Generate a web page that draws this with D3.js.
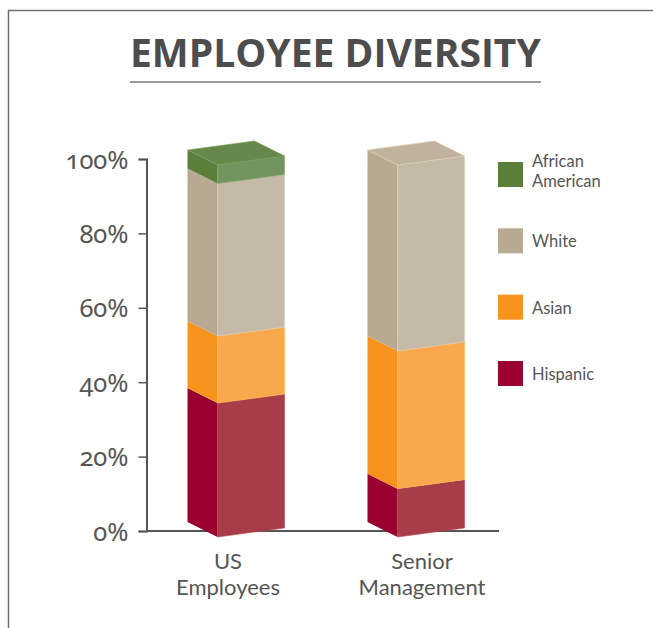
<!DOCTYPE html>
<html>
<head>
<meta charset="utf-8">
<script src="https://cdn.jsdelivr.net/npm/d3@7"></script>
<style>
  body { margin: 0; background: #fff; }
  svg { display: block; }
  .tick-label { font-family: "Noto Sans", Lato, sans-serif; font-variant-numeric: oldstyle-nums; font-feature-settings: "onum" 1; fill: #555; }
  .cat-label, .legend-label { font-family: Lato, "Open Sans", sans-serif; fill: #555; }
</style>
</head>
<body>
<div id="chart"></div>
<script>
// chart data
const categories = ['US Employees', 'Senior Management'];
const categoryLines = [['US', 'Employees'], ['Senior', 'Management']];
const groups = ['Hispanic', 'Asian', 'White', 'African American'];
const hispanic = [36, 13];
const asian = [18, 37];
const white = [41, 50];
const africanAmerican = [5, 0];
const tickValues = [0, 20, 40, 60, 80, 100];
const legendOrder = ['African American', 'White', 'Asian', 'Hispanic'];

// side / front / top face colours per group
const faceColors = {
    'Hispanic':         { side: '#990030', front: '#a83d4a', top: '#a2283c' },
    'Asian':            { side: '#f7941e', front: '#f9a84b', top: '#f89f36' },
    'White':            { side: '#b8a993', front: '#c5baa7', top: '#c0b39e' },
    'African American': { side: '#5b7f3b', front: '#72945e', top: '#66894b' }
};

const width = 653, height = 628;
const svg = d3.select('#chart').append('svg')
    .attr('width', width)
    .attr('height', height);

// frame
svg.append('path')
    .attr('d', `M8.5,${height} L8.5,10.5 L${width},10.5`)
    .attr('fill', 'none')
    .attr('stroke', '#707070')
    .attr('stroke-width', 1.5);

// title
const title = svg.append('text')
    .attr('x', 130)
    .attr('y', 67)
    .attr('font-family', '"Open Sans", Lato, sans-serif')
    .attr('font-weight', 700)
    .attr('font-size', 36)
    .attr('fill', '#4d4d4d')
    .text('EMPLOYEE DIVERSITY');
// fit the title to the underline width
const tw = title.node().getComputedTextLength();
title.attr('font-size', 36 * 411 / tw);

svg.append('line')
    .attr('x1', 130).attr('x2', 541)
    .attr('y1', 82).attr('y2', 82)
    .attr('stroke', '#9a9a9a')
    .attr('stroke-width', 2);

// scales
const yScale = d3.scaleLinear().domain([0, 100]).range([531, 159]);
const xScale = d3.scaleBand()
    .domain(categories)
    .range([146, 506])
    .paddingInner(0.461)
    .paddingOuter(0.2305);
const labelX = d3.scalePoint().domain(categories).range([228, 422]);

// y axis
const yAxis = d3.axisLeft(yScale)
    .tickValues(tickValues)
    .tickSize(8)
    .tickFormat(d => d + '%');

const gy = svg.append('g')
    .attr('transform', 'translate(146.5,0)')
    .call(yAxis);
gy.select('.domain').attr('stroke', '#555').attr('stroke-width', 2);
gy.selectAll('.tick line').attr('stroke', '#555').attr('stroke-width', 1.5);
gy.selectAll('.tick text')
    .attr('class', 'tick-label')
    .attr('x', -18)
    .attr('dy', '0.36em')
    .attr('font-size', 25.5)
    .attr('font-family', null)
    .attr('fill', '#555');

// baseline
svg.append('line')
    .attr('x1', 146).attr('x2', 499)
    .attr('y1', yScale(0)).attr('y2', yScale(0))
    .attr('stroke', '#555')
    .attr('stroke-width', 2);

// stack the data
const rows = categories.map((c, i) => ({
    category: c,
    'Hispanic': hispanic[i],
    'Asian': asian[i],
    'White': white[i],
    'African American': africanAmerican[i]
}));
const series = d3.stack().keys(groups)(rows);

// box geometry (pseudo 3d)
const sideW = 30;          // width of the left face
const frontDrop = 6;       // front corner sits a little under the axis value
const leftRise = 15;       // left corner is higher than front corner
const rightRise = 9;       // right corner is higher than front corner

function faces(cat, v0, v1) {
    const xl = xScale(cat);
    const xf = xl + sideW;
    const xr = xl + xScale.bandwidth();
    const f0 = yScale(v0) + frontDrop, f1 = yScale(v1) + frontDrop;
    return {
        side: [[xl, f0 - leftRise], [xf, f0], [xf, f1], [xl, f1 - leftRise]],
        front: [[xf, f0], [xr, f0 - rightRise], [xr, f1 - rightRise], [xf, f1]],
        top: [[xl, f1 - leftRise], [xf, f1], [xr, f1 - rightRise], [xr - sideW, f1 - leftRise - rightRise]]
    };
}

const line = d3.line();
const barsG = svg.append('g');

categories.forEach((cat, i) => {
    const g = barsG.append('g').attr('class', 'bar');
    let topSeg = null;
    series.forEach(s => {
        const [v0, v1] = s[i];
        if (v1 - v0 <= 0) return;
        const f = faces(cat, v0, v1);
        const col = faceColors[s.key];
        g.append('path').attr('d', line(f.side) + 'Z').attr('fill', col.side);
        g.append('path').attr('d', line(f.front) + 'Z').attr('fill', col.front)
            .attr('stroke', d3.color(col.front).brighter(0.3))
            .attr('stroke-width', 0.6);
        topSeg = { key: s.key, v1 };
    });
    if (topSeg) {
        const f = faces(cat, topSeg.v1, topSeg.v1);
        g.append('path').attr('d', line(f.top) + 'Z')
            .attr('fill', faceColors[topSeg.key].top)
            .attr('stroke', d3.color(faceColors[topSeg.key].top).brighter(0.4))
            .attr('stroke-width', 0.6);
    }
});

// category labels, one text per line
categories.forEach((cat, i) => {
    categoryLines[i].forEach((ln, j) => {
        svg.append('text')
            .attr('class', 'cat-label')
            .attr('text-anchor', 'middle')
            .attr('font-size', 22)
            .attr('x', labelX(cat))
            .attr('y', 568.5 + j * 26.5)
            .text(ln);
    });
});

// legend
const legendY = d3.scalePoint().domain(legendOrder).range([162, 361]);
const legend = svg.append('g');
legendOrder.forEach(key => {
    const y0 = legendY(key);
    legend.append('rect')
        .attr('x', 498).attr('y', y0)
        .attr('width', 25).attr('height', 25)
        .attr('fill', faceColors[key].side);
    const words = key.split(' ');
    if (words.length > 1) {
        words.forEach((w, j) => {
            legend.append('text')
                .attr('class', 'legend-label')
                .attr('font-size', 16.5)
                .attr('x', 532)
                .attr('y', y0 + 4.5 + j * 20.5)
                .text(w);
        });
    } else {
        legend.append('text')
            .attr('class', 'legend-label')
            .attr('font-size', 16.5)
            .attr('x', 532).attr('y', y0 + 19).text(key);
    }
});
</script>
</body>
</html>
